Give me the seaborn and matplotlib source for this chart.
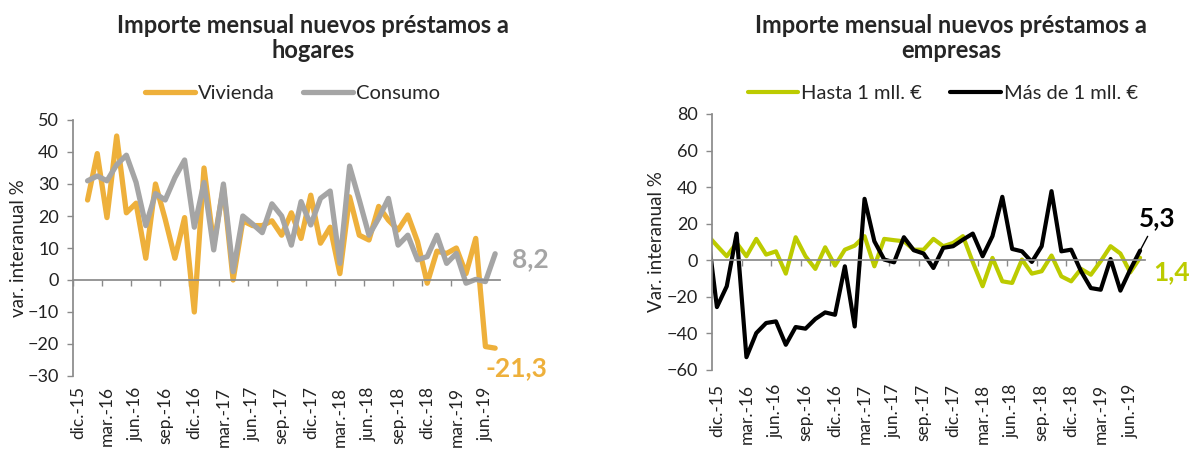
import matplotlib
matplotlib.use("Agg")
import matplotlib.pyplot as plt
import seaborn as sns
import numpy as np
import pandas as pd

# categorias mensuales (nov.-15 ... jul.-19)
meses = ["ene.", "feb.", "mar.", "abr.", "may.", "jun.", "jul.", "ago.", "sep.", "oct.", "nov.", "dic."]
fechas = ["nov.-15", "dic.-15"] + [f"{m}-{a}" for a in ("16", "17", "18") for m in meses] \
    + [f"{m}-19" for m in meses[:7]]
etiquetas = fechas[1::3]

# hogares (var. interanual %)
vivienda = [np.nan, np.nan, 25, 39.5, 19.5, 45, 21, 24, 6.8, 30, 19, 6.8, 19.5, -10, 35, 11, 29, 0,
            18.5, 17, 17, 18.5, 14, 21, 13, 26.5, 11.5, 16.5, 2, 26, 14, 12.5, 23, 18.7, 15.6, 20.3,
            12, -1, 9, 8.3, 10, 2, 13, -20.8, -21.3]
consumo = [np.nan, np.nan, 31, 32.5, 31, 36, 39, 30.5, 17, 27, 25, 32, 37.5, 16.5, 30.5, 9.4, 30, 2.6,
           20, 17.5, 14.8, 23.8, 20, 10.9, 24.5, 17.2, 25.5, 27.8, 5.2, 35.6, 25, 14, 19.3, 25.5, 10.9,
           14, 6.3, 7.3, 14, 5.2, 8.3, -1, 0.2, -0.5, 8.2]

# empresas (var. interanual %)
hasta_1mll = [14, 8, 2.2, 9.5, 2.2, 11.7, 3.1, 4.9, -7.3, 12.6, 2.2, -4.7, 7.1, -2.9, 5.8, 8, 13.2, -3.3,
              11.7, 11, 10.4, 5.8, 5.8, 11.7, 7.7, 9.5, 13.2, -1, -14.2, 1.3, -11.5, -12.4, 0.4, -7.3,
              -6, 2.6, -8.8, -11.5, -4.7, -7.9, -0.5, 7.7, 3.7, -6.6, 1.4]
mas_1mll = [18, -25.6, -14.2, 14.6, -53, -39.8, -34.3, -33.4, -46.2, -36.5, -37.4, -32.1, -28.5, -29.8,
            -3.3, -36.2, 33.6, 10.4, 0.4, -1.1, 12.6, 5.5, 3.7, -4.2, 6.8, 7.7, 11.3, 14.6, 2.2, 13.2,
            34.7, 6.2, 4.9, -0.9, 7.7, 37.8, 4.9, 5.8, -6, -15.2, -16.1, 0.7, -16.6, -5.1, 5.3]

NARANJA = "#EEB03B"
GRIS = "#A5A5A5"
VERDE = "#BCCB00"
NEGRO = "#000000"
EJE = "#8A8A8A"

sns.set_theme(style="white")
plt.rcParams["font.family"] = ["Lato", "DejaVu Sans"]

df = pd.DataFrame({"pos": np.arange(len(fechas)), "fecha": fechas,
                   "Vivienda": vivienda, "Consumo": consumo,
                   "Hasta 1 mll. €": hasta_1mll, "Más de 1 mll. €": mas_1mll})

fig = plt.figure(figsize=(11.96, 4.5), dpi=100)
ax1 = fig.add_axes([73 / 1196, 1 - 376 / 450, 427 / 1196, 256 / 450])
ax2 = fig.add_axes([712 / 1196, 1 - 370 / 450, 433 / 1196, 256 / 450])


def panel(ax, columnas, colores, lw, ylim, paso, ylabel, leg_xy, pad_fechas):
    for col, color in zip(columnas, colores):
        sns.lineplot(data=df, x="pos", y=col, ax=ax, color=color, linewidth=lw, label=col, sort=False)
    ax.set_xlim(0.5, len(fechas) - 0.5)
    ax.set_ylim(*ylim)
    ax.set_yticks(np.arange(ylim[0], ylim[1] + 1, paso))
    for s in ["top", "right"]:
        ax.spines[s].set_visible(False)
    ax.spines["left"].set_color(EJE)
    ax.spines["bottom"].set_color(EJE)
    ax.spines["bottom"].set_position(("data", 0))
    ax.set_xticks(np.arange(0.5, len(fechas), 3))
    ax.set_xticklabels([])
    ax.tick_params(axis="both", direction="out", length=4, width=1, color=EJE, left=True, bottom=True)
    ax.tick_params(axis="y", labelsize=13, pad=6, labelcolor="#222222")
    ax.set_xlabel("")
    ax.set_ylabel(ylabel, fontsize=13.5, color="#222222")
    ax.yaxis.set_label_coords(-0.108, 0.5)
    # etiquetas de fecha abajo del grafico
    sec = ax.secondary_xaxis(0)
    sec.set_xticks(df["pos"][1::3], etiquetas, rotation=90)
    sec.tick_params(length=0, pad=pad_fechas, labelsize=12.5, labelcolor="#222222")
    sec.spines["bottom"].set_visible(False)
    ax.legend(loc="center", bbox_to_anchor=leg_xy, ncol=2, frameon=False, fontsize=14.5,
              handlelength=2.5, handletextpad=0.15, columnspacing=1.4)


panel(ax1, ["Vivienda", "Consumo"], [NARANJA, GRIS], 3.8, (-30, 50), 10,
      "var. interanual %", (0.514, 1.105), 7.5)
panel(ax2, ["Hasta 1 mll. €", "Más de 1 mll. €"], [VERDE, NEGRO], 3.0, (-60, 80), 20,
      "Var. interanual %", (0.533, 1.082), 10)

ult = len(fechas) - 1
ax1.annotate("8,2", xy=(ult, consumo[-1]), xytext=(17, -5), textcoords="offset pixels",
             ha="left", va="center", fontsize=19, fontweight="bold", color=GRIS)
ax1.annotate("-21,3", xy=(ult, vivienda[-1]), xytext=(-10, -20), textcoords="offset pixels",
             ha="left", va="center", fontsize=19, fontweight="bold", color=NARANJA)
ax2.annotate("5,3", xy=(ult, mas_1mll[-1]), xytext=(17, 32), textcoords="offset pixels",
             ha="center", va="center", fontsize=19, fontweight="bold", color=NEGRO,
             arrowprops=dict(arrowstyle="-", color=NEGRO, lw=1, shrinkA=2, shrinkB=0))
ax2.annotate("1,4", xy=(ult, hasta_1mll[-1]), xytext=(13, -14), textcoords="offset pixels",
             ha="left", va="center", fontsize=19, fontweight="bold", color=VERDE)

fig.text(313 / 1196, 1 - 38 / 450, "Importe mensual nuevos préstamos a\nhogares", ha="center",
         va="center", fontsize=17, fontweight="bold", linespacing=1.1)
fig.text(951 / 1196, 1 - 38 / 450, "Importe mensual nuevos préstamos a\nempresas", ha="center",
         va="center", fontsize=17, fontweight="bold", linespacing=1.1)

fig.savefig("out.png", dpi=100)
